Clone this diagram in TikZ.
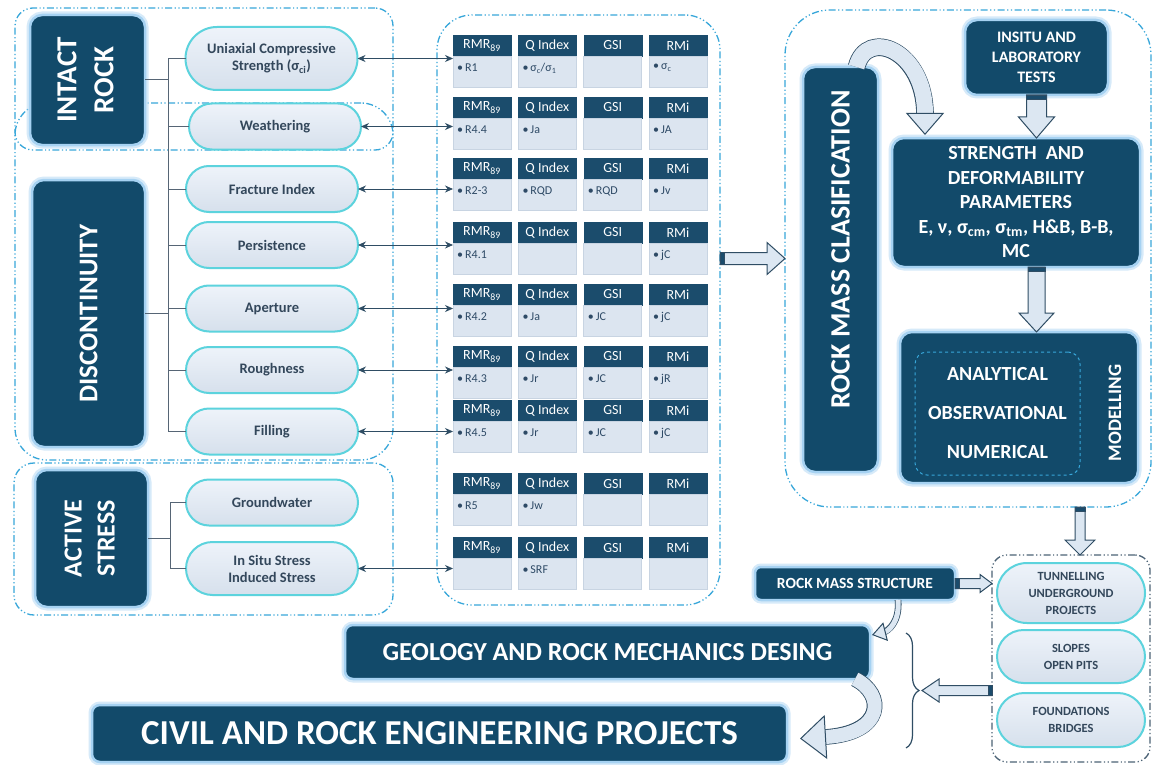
\documentclass[tikz,border=0pt]{standalone}
\usepackage{fontspec}
\setmainfont{Carlito}
\usetikzlibrary{calc,shapes.misc,arrows.meta,decorations.pathreplacing}

\definecolor{navy}{HTML}{124A6A}
\definecolor{glow}{HTML}{A6D2F2}
\definecolor{pilltop}{HTML}{EEF3FA}
\definecolor{pillbot}{HTML}{D6E0EC}
\definecolor{pillline}{HTML}{5CD3DD}
\definecolor{pilltext}{HTML}{33475B}
\definecolor{headfill}{HTML}{1B4C6C}
\definecolor{bodyfill}{HTML}{DCE5F0}
\definecolor{bodyline}{HTML}{C8D4E2}
\definecolor{bodytext}{HTML}{2E4A66}
\definecolor{panelline}{HTML}{38A7DA}
\definecolor{projline}{HTML}{4C6376}
\definecolor{wirecol}{HTML}{566575}
\definecolor{arrfill}{HTML}{DCE7F2}
\definecolor{arrline}{HTML}{2F4D64}

\newcommand{\fs}[2]{\fontsize{#1}{#2}\selectfont}
\newcommand{\bul}{\textbullet\,}

\tikzset{
  panel/.style={draw=panelline, line width=1.3pt,
    dash pattern=on 7pt off 2.5pt on 1.2pt off 2.5pt on 1.2pt off 2.5pt,
    inner sep=0pt, outer sep=0pt, anchor=north west},
  darkbox/.style={fill=navy, draw=glow, line width=2.5pt,
    preaction={draw=glow, line width=7pt, opacity=.45},
    rounded corners=12pt, text=white, font=\bfseries,
    inner sep=0pt, outer sep=0pt, align=center},
  pill/.style={rounded rectangle, top color=pilltop, bottom color=pillbot, draw=pillline, line width=2pt,
    text=pilltext, font=\fs{14.5}{17}\bfseries, align=center,
    inner sep=0pt, outer sep=0pt, minimum width=172pt, minimum height=46pt},
  ppill/.style={pill, font=\fs{12.5}{17}\bfseries, minimum width=148pt},
  thead/.style={fill=headfill, draw=headfill, text=white, font=\fs{14}{15},
    minimum width=58pt, minimum height=21pt, inner sep=0pt, outer sep=0pt,
    anchor=north west},
  tbody/.style={fill=bodyfill, draw=bodyline, line width=.6pt,
    minimum width=58pt, minimum height=31pt, inner sep=0pt, outer sep=0pt,
    anchor=north west},
  ttext/.style={text=bodytext, font=\fs{12}{14}, inner sep=0pt, anchor=west},
  wire/.style={draw=wirecol, line width=1pt},
  link/.style={draw=arrline, line width=.8pt,
    {Stealth[length=8pt,width=7pt]}-{Stealth[length=8pt,width=7pt]}},
  blockarr/.style={fill=arrfill, draw=arrline, line width=1pt, line join=miter},
}

% one cell of a classification table: header, body and its entry
\newcommand{\tcell}[5]{%
  \node[thead] (h#1) at (#2,#3) {#4};
  \node[tbody] (b#1) at (h#1.south west) {};
  \node[ttext] (t#1) at ($(b#1.north west)+(4,12)$) {#5};
}
% one row of four tables
\newcommand{\trow}[6]{%
  \tcell{#1a}{453}{#2}{RMR\textsubscript{89}}{#3}
  \tcell{#1b}{518.3}{#2}{Q Index}{#4}
  \tcell{#1c}{583.7}{#2}{GSI}{#5}
  \tcell{#1d}{649}{#2}{RMi}{#6}
}
% straight block arrow: from, to, half shaft, half head, head length
\newcommand{\blockarrow}[5]{%
  \coordinate (ba-s) at (#1);
  \coordinate (ba-e) at (#2);
  \coordinate (ba-h) at ($(ba-e)!#5!(ba-s)$);
  \coordinate (ba-t) at ($(ba-s)!4pt!(ba-e)$);
  \filldraw[blockarr] ($(ba-s)!#3!90:(ba-e)$) -- ($(ba-h)!#3!90:(ba-e)$)
    -- ($(ba-h)!#4!90:(ba-e)$) -- (ba-e) -- ($(ba-h)!#4!-90:(ba-e)$)
    -- ($(ba-h)!#3!-90:(ba-e)$) -- ($(ba-s)!#3!-90:(ba-e)$) -- cycle;
  \filldraw[fill=headfill, draw=arrline, line width=.8pt]
    ($(ba-s)!#3!90:(ba-e)$) rectangle ($(ba-t)!#3!-90:(ba-e)$);
}

\begin{document}
\begin{tikzpicture}[x=1pt,y=-1pt]
\useasboundingbox (0,0) rectangle (1153,765);
\fill[white] (0,0) rectangle (1153,765);

% ---------- grouping panels ----------
\node[panel, minimum width=378pt, minimum height=142pt, rounded corners=18pt] (intactpanel) at (15,8) {};
\node[panel, minimum width=378pt, minimum height=357pt, rounded corners=32pt] (discpanel) at (15,103) {};
\node[panel, minimum width=379pt, minimum height=152pt, rounded corners=20pt] (activepanel) at (14,463) {};
\node[panel, minimum width=283pt, minimum height=590pt, rounded corners=35pt] (tablepanel) at (437,15) {};
\node[panel, minimum width=366pt, minimum height=497pt, rounded corners=45pt] (rightpanel) at (785,10) {};
\node[panel, draw=projline, minimum width=158pt, minimum height=207pt, rounded corners=15pt] (proj) at (992,555) {};

% ---------- parameter groups ----------
\node[darkbox, minimum width=115pt, minimum height=130pt] (intact) at (87.5,80)
  {\rotatebox{90}{\fs{29}{37}\bfseries\begin{tabular}{@{}c@{}}INTACT\\ROCK\end{tabular}}};
\node[darkbox, minimum width=113pt, minimum height=267pt] (disc) at (88.5,313.5)
  {\rotatebox{90}{\fs{27}{33}\bfseries DISCONTINUITY}};
\node[darkbox, minimum width=113pt, minimum height=137pt] (active) at (91.5,538.5)
  {\rotatebox{90}{\fs{26}{33}\bfseries\begin{tabular}{@{}c@{}}ACTIVE\\STRESS\end{tabular}}};

% ---------- parameters ----------
\node[pill, minimum height=63pt] (ucs) at (271.5,58.5) {Uniaxial Compressive\\Strength (σ\textsubscript{ci})};
\node[pill] (wea) at (275,126.5) {Weathering};
\node[pill] (fra) at (272,189) {Fracture Index};
\node[pill] (per) at (272,245) {Persistence};
\node[pill] (ape) at (272,308.5) {Aperture};
\node[pill] (rou) at (272,370) {Roughness};
\node[pill] (fil) at (272,431.5) {Filling};
\node[pill] (gro) at (272,502.5) {Groundwater};
\node[pill, minimum height=53pt] (ist) at (272,568.5) {In Situ Stress\\Induced Stress};

% ---------- tree connectors ----------
\coordinate (trunk) at (168,0);
\draw[wire] (ucs.west -| trunk) -- (fil.west -| trunk);
\foreach \p in {ucs,wea,fra,per,ape,rou,fil} \draw[wire] (\p.west) -- (\p.west -| trunk);
\draw[wire] (intact.east) -- (intact.east -| trunk);
\draw[wire] (disc.east) -- (disc.east -| trunk);
\coordinate (trunkb) at (170,0);
\draw[wire] (gro.west -| trunkb) -- (ist.west -| trunkb);
\foreach \p in {gro,ist} \draw[wire] (\p.west) -- (\p.west -| trunkb);
\draw[wire] (active.east) -- (active.east -| trunkb);

% ---------- classification tables ----------
\trow{1}{35}{\bul R1}{\bul σ\textsubscript{c}/σ\textsubscript{1}}{}{\bul σ\textsubscript{c}}
\trow{2}{97}{\bul R4.4}{\bul Ja}{}{\bul JA}
\trow{3}{158}{\bul R2-3}{\bul RQD}{\bul RQD}{\bul Jv}
\trow{4}{222}{\bul R4.1}{}{}{\bul jC}
\trow{5}{284}{\bul R4.2}{\bul Ja}{\bul JC}{\bul jC}
\trow{6}{346}{\bul R4.3}{\bul Jr}{\bul JC}{\bul jR}
\trow{7}{400}{\bul R4.5}{\bul Jr}{\bul JC}{\bul jC}
\trow{8}{473}{\bul R5}{\bul Jw}{}{}
\trow{9}{537}{}{\bul SRF}{}{}

\foreach \p/\q in {ucs/1,wea/2,fra/3,per/4,ape/5,rou/6,fil/7,ist/9}
  \draw[link] (\p.east) -- (\p.east -| b\q a.west);

% ---------- rock mass classification and parameters ----------
\node[darkbox, minimum width=75pt, minimum height=405pt] (cls) at (840.5,269.5)
  {\rotatebox{90}{\fs{28}{33}\bfseries\hspace{40pt}ROCK MASS CLASIFICATION}};
\node[darkbox, minimum width=143pt, minimum height=75pt, font=\fs{16}{20}\bfseries] (insitu) at (1036.5,57.5)
  {INSITU AND\\LABORATORY\\TESTS};
\node[darkbox, minimum width=248pt, minimum height=129pt, font=\fs{20}{24.5}\bfseries] (strength) at (1016,202.5)
  {STRENGTH\ \ AND\\DEFORMABILITY\\PARAMETERS\\E, ν, σ\textsubscript{cm}, σ\textsubscript{tm}, H\&B, B-B,\\MC};
\node[darkbox, minimum width=238pt, minimum height=151pt] (modelling) at (1019,407.5) {};
\node[draw=panelline, dashed, line width=1pt, rounded corners=12pt, minimum width=165pt, minimum height=123pt,
  text=white, font=\fs{20}{39}\bfseries, align=center, inner sep=0pt] (meth) at (997.5,413.5)
  {ANALYTICAL\\OBSERVATIONAL\\NUMERICAL};
\node[text=white, font=\fs{19}{22}\bfseries, inner sep=0pt] (modlabel) at (1115,413)
  {\rotatebox{90}{MODELLING}};

% ---------- applications ----------
\node[darkbox, minimum width=200pt, minimum height=33pt, rounded corners=6pt, font=\fs{15.5}{18}\bfseries] (structure) at (855,583.5)
  {ROCK MASS STRUCTURE};
\node[ppill, minimum height=60pt] (tun) at (1071,593) {TUNNELLING\\UNDERGROUND\\PROJECTS};
\node[ppill, minimum height=53pt] (slo) at (1071,656.5) {SLOPES\\OPEN PITS};
\node[ppill, minimum height=54pt] (fou) at (1071,720) {FOUNDATIONS\\BRIDGES};
\node[darkbox, minimum width=525pt, minimum height=54pt, rounded corners=8pt, font=\fs{26}{30}\bfseries] (geology) at (607.5,652)
  {GEOLOGY AND ROCK MECHANICS DESING};
\node[darkbox, minimum width=695pt, minimum height=57pt, rounded corners=8pt, font=\fs{35}{40}\bfseries] (civil) at (439.5,733.5)
  {CIVIL AND ROCK ENGINEERING PROJECTS};

% ---------- block arrows ----------
\blockarrow{tablepanel.east |- rightpanel.west}{rightpanel.west}{6pt}{16pt}{18pt}
\blockarrow{insitu.south}{insitu.south |- strength.north}{10pt}{18pt}{21pt}
\blockarrow{strength.south -| insitu.south}{modelling.north -| insitu.south}{8.5pt}{17.5pt}{19pt}
\blockarrow{$(proj.north |- rightpanel.south)+(9,0)$}{$(proj.north)+(9,0)$}{5pt}{15pt}{15pt}
\blockarrow{structure.east}{proj.west |- structure.east}{5pt}{9pt}{12pt}

% brace gathering the applications, tip facing the arrow
\coordinate (bracetop) at (906,633);
\coordinate (bracebot) at (906,748);
\coordinate (bracetip) at (922,690.5);
\draw[arrline, line width=1.2pt, decorate, decoration={brace, amplitude=13pt}] (bracetop) -- (bracebot);
\blockarrow{proj.west |- bracetip}{bracetip}{5pt}{11.5pt}{17pt}

% ---------- curved arrows ----------
\coordinate (ca1) at ($(cls.north)+(16,0)$);
\coordinate (ca2) at ($(strength.north west)+(33,-3)$);
\draw[draw=arrline, line width=17.6pt, shorten >=20pt]
  (ca1) .. controls ($(ca1)+(10,-40)$) and ($(ca2)+(0,-85)$) .. (ca2);
\draw[draw=arrfill, line width=16pt, -{Triangle[width=38pt,length=22pt,fill=arrfill,color=arrline,line width=1pt]}]
  (ca1) .. controls ($(ca1)+(10,-40)$) and ($(ca2)+(0,-85)$) .. (ca2);

\coordinate (sa1) at ($(structure.south east)+(-57,0)$);
\coordinate (sa2) at ($(geology.north east)+(2,10)$);
\draw[draw=arrline, line width=6.6pt, shorten >=12pt]
  (sa1) .. controls ($(sa1)+(2,22)$) and ($(sa2)+(16,-4)$) .. (sa2);
\draw[draw=arrfill, line width=5pt, -{Triangle[width=19pt,length=14pt,fill=arrfill,color=arrline,line width=1pt]}]
  (sa1) .. controls ($(sa1)+(2,22)$) and ($(sa2)+(16,-4)$) .. (sa2);

\coordinate (ga1) at ($(geology.south east)+(-15,0)$);
\coordinate (ga2) at ($(civil.east)+(13,5)$);
\draw[draw=arrline, line width=15.6pt, shorten >=24pt]
  (ga1) .. controls ($(ga1)+(30,15)$) and ($(ga2)+(85,-5)$) .. (ga2);
\draw[draw=arrfill, line width=14pt, -{Triangle[width=44pt,length=26pt,fill=arrfill,color=arrline,line width=1pt]}]
  (ga1) .. controls ($(ga1)+(30,15)$) and ($(ga2)+(85,-5)$) .. (ga2);
\end{tikzpicture}
\end{document}
